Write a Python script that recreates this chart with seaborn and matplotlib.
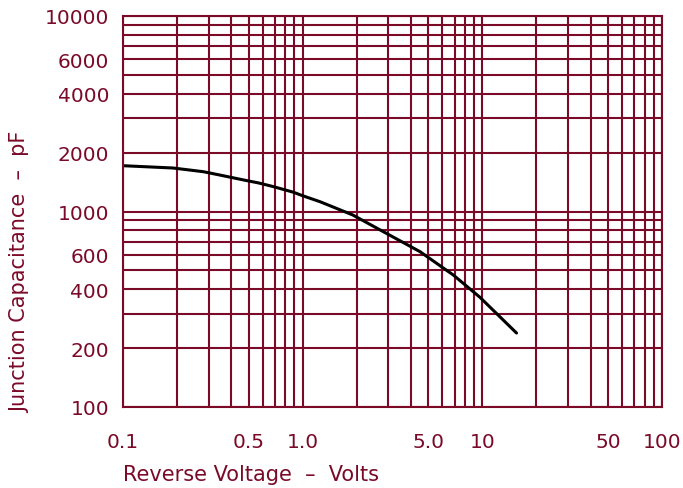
import matplotlib
matplotlib.use("Agg")
import matplotlib.pyplot as plt
import matplotlib.ticker as mticker
import seaborn as sns
import pandas as pd
import numpy as np

# Data
voltage = [0.1, 0.19, 0.28, 0.36, 0.47, 0.57, 0.69, 0.89, 1.0, 1.25, 1.9, 2.8, 4.5, 6.9, 9.7, 15.5]
capacitance = [1715, 1669, 1598, 1525, 1449, 1399, 1339, 1254, 1204, 1122, 960, 790, 623, 473, 364, 239]
x_ticks = [0.1, 0.5, 1.0, 5.0, 10, 50, 100]
x_tick_labels = ["0.1", "0.5", "1.0", "5.0", "10", "50", "100"]
y_ticks = [100, 200, 400, 600, 1000, 2000, 4000, 6000, 10000]
y_tick_labels = ["100", "200", "400", "600", "1000", "2000", "4000", "6000", "10000"]

maroon = "#7A0A28"

sns.set_style("white")
plt.rcParams["font.family"] = ["DejaVu Sans"]

W, H = 683, 489
fig = plt.figure(figsize=(W / 100, H / 100), dpi=100)
ax = fig.add_axes([123 / W, 1 - 408 / H, (662 - 123) / W, (408 - 17) / H])

df = pd.DataFrame({"V": voltage, "C": capacitance})
ax.set_xscale("log")
ax.set_yscale("log")
sns.lineplot(data=df, x="V", y="C", ax=ax, color="black", linewidth=2.2)

ax.set_xlim(0.1, 100)
ax.set_ylim(100, 10000)

ax.xaxis.set_major_locator(mticker.FixedLocator(x_ticks))
ax.xaxis.set_major_formatter(mticker.FixedFormatter(x_tick_labels))
ax.yaxis.set_major_locator(mticker.FixedLocator(y_ticks))
ax.yaxis.set_major_formatter(mticker.FixedFormatter(y_tick_labels))
ax.xaxis.set_minor_locator(mticker.LogLocator(base=10, subs=np.arange(1, 10)))
ax.yaxis.set_minor_locator(mticker.LogLocator(base=10, subs=np.arange(1, 10)))
ax.xaxis.set_minor_formatter(mticker.NullFormatter())
ax.yaxis.set_minor_formatter(mticker.NullFormatter())

ax.grid(True, which="both", color=maroon, linewidth=1.5)
ax.set_axisbelow(True)
for s in ax.spines.values():
    s.set_color(maroon)
    s.set_linewidth(1.5)

ax.tick_params(axis="both", which="both", length=0, colors=maroon, labelsize=14.5)
ax.tick_params(axis="x", pad=18)
ax.tick_params(axis="y", pad=10)

ax.set_xlabel("")
ax.set_ylabel("")
fig.text(123 / W, 1 - 475 / H, "Reverse Voltage  –  Volts", color=maroon,
         fontsize=15, ha="left", va="center")
fig.text(20 / W, 1 - 272 / H, "Junction Capacitance  –  pF", color=maroon,
         fontsize=15, ha="center", va="center", rotation=90)

fig.savefig("out.png", dpi=100)
